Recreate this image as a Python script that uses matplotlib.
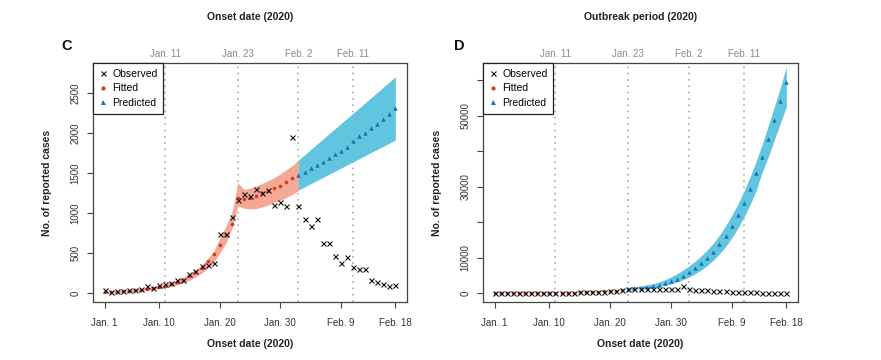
import matplotlib
matplotlib.use("Agg")
import matplotlib.pyplot as plt
from matplotlib.lines import Line2D
import matplotlib.transforms as mtransforms

plt.rcParams['font.family'] = ['Liberation Sans', 'DejaVu Sans']

# ---------------- data ----------------
days = list(range(1, 50))  # Jan 1 .. Feb 18
observed = [33, 15, 30, 22, 38, 40, 50, 85, 62, 105, 112, 125, 165, 160, 240, 270, 333,
            345, 375, 735, 735, 946, 1168, 1235, 1217, 1300, 1248, 1287, 1102, 1142, 1092,
            1950, 1082, 925, 842, 925, 625, 625, 467, 375, 445, 325, 300, 300, 167, 138,
            117, 92, 104]

# Panel C
fit_days_c = list(range(1, 33))
fitted_c = [12, 14, 18, 22, 27, 33, 40, 49, 60, 74, 90, 110, 135, 168, 210, 258, 318,
            400, 490, 600, 725, 862, 1183, 1171, 1192, 1212, 1246, 1275, 1308, 1342, 1383, 1433]
band_days_c_fit = list(range(1, 34))
fit_lo_c = [2, 4, 8, 11, 15, 20, 26, 33, 42, 53, 66, 82, 102, 128, 160, 200, 248, 310, 380,
            500, 620, 800, 1090, 1060, 1050, 1055, 1075, 1100, 1130, 1160, 1195, 1235, 1280]
fit_hi_c = [22, 25, 30, 35, 40, 48, 56, 66, 80, 96, 115, 138, 166, 200, 240, 290, 350, 430,
            520, 690, 830, 1000, 1380, 1295, 1310, 1340, 1370, 1405, 1445, 1490, 1540, 1595, 1660]
pred_days_c = list(range(33, 50))
pred_c = [1475, 1517, 1558, 1600, 1642, 1683, 1737, 1779, 1829, 1900, 1962, 2004, 2058,
          2112, 2171, 2237, 2308]
pred_lo_c = [1287, 1326, 1365, 1404, 1443, 1482, 1521, 1560, 1600, 1639, 1678, 1717, 1756,
             1795, 1834, 1873, 1912]
pred_hi_c = [1662, 1727, 1792, 1857, 1922, 1987, 2052, 2117, 2182, 2246, 2311, 2377, 2442,
             2507, 2572, 2638, 2704]

# Panel D
fit_days_d = list(range(1, 23))
fitted_d = fitted_c[:22]
pred_days_d = list(range(23, 50))
pred_d = [1250, 1400, 1560, 1760, 2000, 2350, 2800, 3400, 4100, 4950, 5900, 7000, 8350,
          9850, 11600, 13700, 16100, 18900, 22000, 25400, 29300, 33700, 38400, 43400,
          48700, 54200, 59500]
pred_lo_d = [950, 1080, 1220, 1380, 1580, 1850, 2180, 2600, 3150, 3800, 4550, 5450, 6500,
             7800, 9300, 11100, 13100, 15500, 18200, 21300, 24800, 28700, 34000, 38200,
             43000, 47800, 52500]
pred_hi_d = [1550, 1750, 2000, 2300, 2650, 3100, 3750, 4550, 5450, 6500, 7700, 9000, 10500,
             12200, 14100, 16300, 18900, 21800, 25000, 28600, 32600, 37000, 41800, 47000,
             52400, 57800, 63800]

xtick_days = [1, 10, 20, 30, 40, 49]
xtick_labels = ["Jan. 1", "Jan. 10", "Jan. 20", "Jan. 30", "Feb. 9", "Feb. 18"]
event_days = [11, 23, 33, 42]
event_labels = ["Jan. 11", "Jan. 23", "Feb. 2", "Feb. 11"]

yticks_c = [0, 500, 1000, 1500, 2000, 2500]
yticklabels_c = ["0", "500", "1000", "1500", "2000", "2500"]
yticks_d = [0, 10000, 20000, 30000, 40000, 50000, 60000]
yticklabels_d = ["0", "10000", "", "30000", "", "50000", ""]

# ---------------- style ----------------
RED_BAND = "#f5a895"
RED_DOT = "#d23c27"
BLUE_BAND = "#62c5df"
BLUE_TRI = "#1d6fb3"
GRID = "#b5b5b5"
AXC = "#444444"
TXT = "#333333"

W, H = 881, 360
fig = plt.figure(figsize=(W / 100, H / 100), dpi=100)

def fx(px):
    return px / W

def fy(py):
    return 1 - py / H

axC = fig.add_axes([fx(93), fy(302), fx(407) - fx(93), fy(63) - fy(302)])
axD = fig.add_axes([fx(483), fy(302), fx(798) - fx(483), fy(63) - fy(302)])


def style_axes(ax, yticks, yticklabels, ylim):
    ax.set_xlim(-0.92, 50.92)
    ax.set_ylim(*ylim)
    for s in ax.spines.values():
        s.set_color(AXC)
        s.set_linewidth(0.9)
    ax.set_xticks(xtick_days)
    ax.set_xticklabels(xtick_labels)
    ax.set_yticks(yticks)
    ax.set_yticklabels(yticklabels, rotation=90, va='center')
    ax.tick_params(axis='x', length=4, width=0.8, color=AXC, labelsize=7,
                   labelcolor=TXT, pad=7.5)
    ax.tick_params(axis='y', length=4, width=0.8, color=AXC, labelsize=7,
                   labelcolor=TXT, pad=5)
    for d in event_days:
        ax.axvline(d, color=GRID, linestyle=(0, (1, 2.5)), linewidth=1.3, zorder=1)
    trans = mtransforms.blended_transform_factory(ax.transData, ax.transAxes)
    for d, lab in zip(event_days, event_labels):
        ax.text(d, 1.0 + 9 / 239, lab, transform=trans, ha='center', va='center',
                fontsize=7, color="#8a8a8a")


def draw(ax, fit_days, fitted, fit_band, pred_days, pred, pred_lo, pred_hi):
    if fit_band is not None:
        bd, lo, hi = fit_band
        ax.fill_between(bd, lo, hi, color=RED_BAND, linewidth=0, zorder=2)
    ax.fill_between(pred_days, pred_lo, pred_hi, color=BLUE_BAND, linewidth=0, zorder=2)
    ax.plot(fit_days, fitted, linestyle='none', marker='o', markersize=2.6,
            color=RED_DOT, markeredgewidth=0, zorder=3)
    ax.plot(pred_days, pred, linestyle='none', marker='^', markersize=3.2,
            color=BLUE_TRI, markeredgewidth=0, zorder=3)
    ax.plot(days, observed, linestyle='none', marker='x', markersize=3.6,
            color='#111111', markeredgewidth=0.8, zorder=4)
    handles = [
        Line2D([], [], linestyle='none', marker='x', markersize=3.6, color='#111111',
               markeredgewidth=0.8),
        Line2D([], [], linestyle='none', marker='o', markersize=3, color=RED_DOT,
               markeredgewidth=0),
        Line2D([], [], linestyle='none', marker='^', markersize=3.6, color=BLUE_TRI,
               markeredgewidth=0),
    ]
    leg = ax.legend(handles, ["Observed", "Fitted", "Predicted"], loc='upper left',
                    borderaxespad=0, fancybox=False, framealpha=1, edgecolor='#222222',
                    fontsize=7.5, handlelength=0.9, handletextpad=0.4, labelspacing=0.45,
                    borderpad=0.55)
    leg.get_frame().set_linewidth(0.9)
    leg.set_zorder(5)


style_axes(axC, yticks_c, yticklabels_c, (-112, 2875))
draw(axC, fit_days_c, fitted_c, (band_days_c_fit, fit_lo_c, fit_hi_c),
     pred_days_c, pred_c, pred_lo_c, pred_hi_c)

style_axes(axD, yticks_d, yticklabels_d, (-2500, 64800))
draw(axD, fit_days_d, fitted_d, None, pred_days_d, pred_d, pred_lo_d, pred_hi_d)

# Titles, labels
fig.text(fx(250), fy(17), "Onset date (2020)", ha='center', va='center',
         fontsize=7.5, fontweight='bold', color='#222222')
fig.text(fx(640.5), fy(17), "Outbreak period (2020)", ha='center', va='center',
         fontsize=7.5, fontweight='bold', color='#222222')
fig.text(fx(250), fy(344), "Onset date (2020)", ha='center', va='center',
         fontsize=7.5, fontweight='bold', color='#222222')
fig.text(fx(640.5), fy(344), "Onset date (2020)", ha='center', va='center',
         fontsize=7.5, fontweight='bold', color='#222222')
fig.text(fx(47), fy(182.5), "No. of reported cases", ha='center', va='center',
         rotation=90, fontsize=7.5, fontweight='bold', color='#222222')
fig.text(fx(437), fy(182.5), "No. of reported cases", ha='center', va='center',
         rotation=90, fontsize=7.5, fontweight='bold', color='#222222')
fig.text(fx(67), fy(46), "C", ha='center', va='center', fontsize=10.5,
         fontweight='bold', color='#111111')
fig.text(fx(459), fy(46), "D", ha='center', va='center', fontsize=10.5,
         fontweight='bold', color='#111111')

fig.savefig("out.png", dpi=100)
